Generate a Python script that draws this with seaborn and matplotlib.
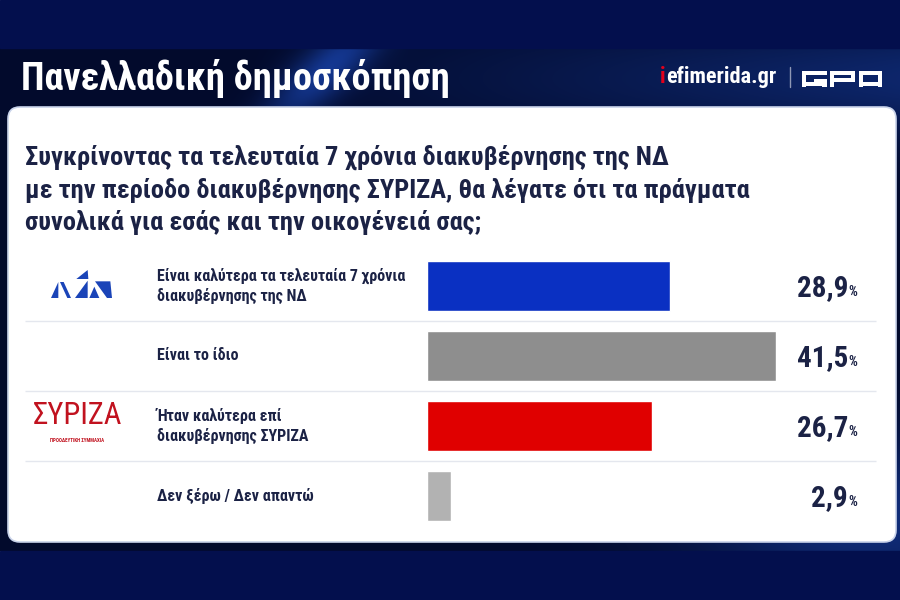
import numpy as np
import pandas as pd
import matplotlib
matplotlib.use("Agg")
import matplotlib.pyplot as plt
import matplotlib.transforms as mtransforms
from matplotlib.patches import FancyBboxPatch, Polygon, Rectangle
from matplotlib import font_manager as fm
import seaborn as sns

# ---------------- data ----------------
categories = [
    "Είναι καλύτερα τα τελευταία 7 χρόνια\nδιακυβέρνησης της ΝΔ",
    "Είναι το ίδιο",
    "Ήταν καλύτερα επί\nδιακυβέρνησης ΣΥΡΙΖΑ",
    "Δεν ξέρω / Δεν απαντώ",
]
values = [28.9, 41.5, 26.7, 2.9]
value_labels = ["28,9", "41,5", "26,7", "2,9"]
bar_colors = ["#0a30c2", "#8e8e8e", "#e00000", "#b2b2b2"]
title = "Πανελλαδική δημοσκόπηση"
question = ("Συγκρίνοντας τα τελευταία 7 χρόνια διακυβέρνησης της ΝΔ\n"
            "με την περίοδο διακυβέρνησης ΣΥΡΙΖΑ, θα λέγατε ότι τα πράγματα\n"
            "συνολικά για εσάς και την οικογένειά σας;")

# ---------------- fonts ----------------
sns.set_theme(style="white")
names = {f.name for f in fm.fontManager.ttflist}
if "Roboto Condensed" in names:
    COND, STRETCH = "Roboto Condensed", "normal"
elif "Liberation Sans Narrow" in names:
    COND, STRETCH = "Liberation Sans Narrow", "normal"
else:
    COND, STRETCH = "DejaVu Sans", "condensed"
plt.rcParams["font.family"] = [COND, "DejaVu Sans"]

NAVY_TXT = "#1b2245"

fig = plt.figure(figsize=(9, 6), dpi=100)

# ---------------- background ----------------
bg = fig.add_axes([0, 0, 1, 1], zorder=0)
bg.set_xlim(0, 900)
bg.set_ylim(600, 0)
bg.axis("off")

H, W = 503, 900
yy, xx = np.mgrid[0:H, 0:W]
base = np.array([2, 10, 44]) / 255.0
img = np.ones((H, W, 3)) * base
d = (xx - 345 + yy * 0.9)
glow = np.exp(-(d / 35.0) ** 2) * np.exp(-((yy - 20) / 60.0) ** 2)
glow2 = np.exp(-((xx - 870) / 180.0) ** 2) * np.exp(-((yy - 470) / 80.0) ** 2)
glow3 = np.exp(-((yy - 30) / 60.0) ** 2) * np.clip((xx - 250) / 650, 0, 1)
blue = np.array([30, 80, 200]) / 255.0
img = img + (0.6 * glow + 0.5 * glow2 + 0.4 * glow3)[..., None] * (blue - base)
img = np.clip(img, 0, 1)
bg.imshow(img, extent=[0, 900, 551, 48], aspect="auto", zorder=0)
bg.add_patch(Rectangle((0, 0), 900, 48, color="#030f4d", zorder=1))
bg.add_patch(Rectangle((0, 551), 900, 49, color="#030f4d", zorder=1))

# white panel
bg.add_patch(FancyBboxPatch((8, 107), 888, 435,
                            boxstyle="round,pad=0,rounding_size=12",
                            facecolor="white", edgecolor="#c9d3ea", lw=1.2, zorder=2))

# header texts
bg.text(21, 78, title, color="white", fontsize=27.5, fontweight="bold",
        fontstretch=STRETCH, va="center", ha="left", zorder=3)
bg.text(660, 77, "i", color="#e3001b", fontsize=16, fontweight="bold",
        fontstretch=STRETCH, va="center", ha="left", zorder=3)
bg.text(666, 77, "efimerida.gr", color="white", fontsize=16, fontweight="bold",
        fontstretch=STRETCH, va="center", ha="left", zorder=3)
bg.plot([790, 790], [67, 87], color="#8f98b5", lw=1, zorder=3)

# GPO logo as blocks (decoration)
def block(x0, y0, x1, y1):
    bg.add_patch(Rectangle((x0, y0), x1 - x0, y1 - y0, color="white", lw=0, zorder=3))
T, B, S = 71.0, 86.5, 4.2
# G
gx0, gx1 = 801.5, 826.5
block(gx0, T, gx1, T + S); block(gx0, T, gx0 + S, B); block(gx0, B - S, gx1, B)
block(gx1 - S, 78.5, gx1, B); block(814, 78.5, gx1, 81.5)
# P
px0, px1 = 830, 855
block(px0, T, px1, T + S); block(px0, T, px0 + S, B); block(px1 - S, T, px1, 81.5)
block(px0, 78.0, px1, 81.5)
# O
ox0, ox1 = 858.5, 882
block(ox0, T, ox1, T + S); block(ox0, B - S, ox1, B); block(ox0, T, ox0 + S, B)
block(ox1 - S, T, ox1, B)

# question
bg.text(25, 190, question, color=NAVY_TXT, fontsize=19, fontweight="bold",
        fontstretch=STRETCH, va="center", ha="left", linespacing=1.37, zorder=3)

# ND logo (decoration)
def P(pts):
    return [(45 + x / 3.0, 268 + y / 3.0) for x, y in pts]
nd_blue = "#1a44b8"
for pts in [
    [(18, 90), (40, 42), (40, 90)],
    [(45, 42), (56, 42), (78, 90), (67, 90)],
    [(94, 33), (128, 6), (130, 33)],
    [(90, 90), (128, 38), (128, 90)],
    [(133, 90), (148, 56), (163, 90)],
    [(150, 40), (196, 40), (201, 90), (186, 90)],
]:
    bg.add_patch(Polygon(P(pts), closed=True, color=nd_blue, lw=0, zorder=3))

# SYRIZA logo (decoration)
bg.text(77, 416, "ΣΥΡΙΖΑ", color="#c1121f", fontsize=22, fontweight="normal",
        fontstretch=STRETCH, va="center", ha="center", zorder=3)
bg.text(77, 440, "ΠΡΟΟΔΕΥΤΙΚΗ ΣΥΜΜΑΧΙΑ", color="#c1121f", fontsize=3.6,
        fontweight="bold", va="center", ha="center", zorder=3)

# ---------------- bars ----------------
df = pd.DataFrame({"cat": categories, "val": values})
ax = fig.add_axes([427 / 900, 1 - 531 / 600, (776 - 427) / 900, 280 / 600], zorder=2)
ax.patch.set_alpha(0)
sns.barplot(data=df, x="val", y="cat", hue="cat", palette=bar_colors,
            order=categories, hue_order=categories, orient="h",
            width=0.71, legend=False, ax=ax, saturation=1)
ax.set_xlim(0, max(values))
ax.set_ylim(len(categories) - 0.5, -0.5)
ax.axis("off")

trans = mtransforms.blended_transform_factory(bg.transData, ax.transData)

# separators
ax.hlines([i + 0.5 for i in range(len(categories) - 1)], 25, 876,
          transform=trans, color="#e4e7ee", lw=1, clip_on=False, zorder=1)

for i, (lab, vl) in enumerate(zip(categories, value_labels)):
    ax.text(157, i, lab, transform=trans, color=NAVY_TXT, fontsize=11.5,
            fontweight="bold", fontstretch=STRETCH, ha="left", va="center",
            linespacing=1.3, clip_on=False)
    ax.text(848, i + 0.15, vl, transform=trans, color=NAVY_TXT, fontsize=21,
            fontweight="bold", fontstretch=STRETCH, ha="right", va="baseline",
            clip_on=False)
    ax.text(848.5, i + 0.15, "%", transform=trans, color=NAVY_TXT, fontsize=10,
            fontweight="bold", fontstretch=STRETCH, ha="left", va="baseline",
            clip_on=False)

fig.savefig("out.png", dpi=100)
